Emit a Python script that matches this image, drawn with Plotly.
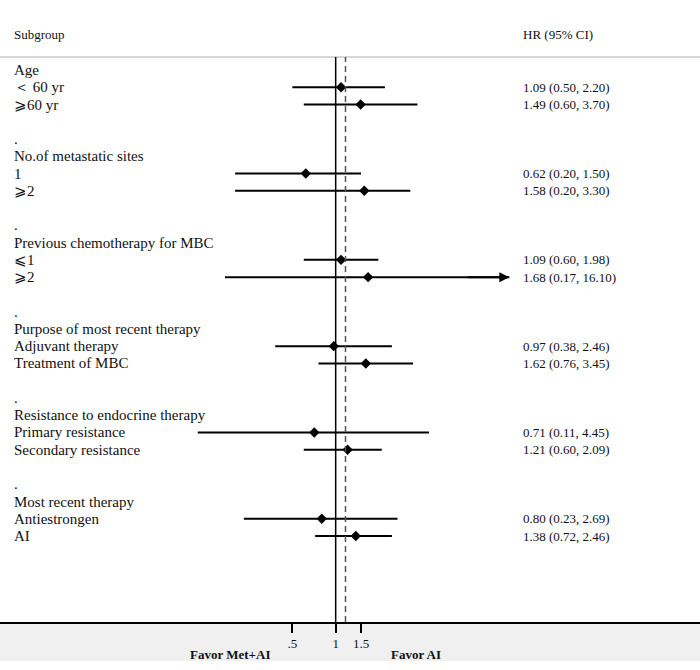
import numpy as np
import plotly.graph_objects as go

# -------------------------------------
# DATA
# -------------------------------------
row_labels = [
    "Age", "＜ 60 yr", "⩾60 yr", "", ".",
    "No.of metastatic sites", "1", "⩾2", "", ".",
    "Previous chemotherapy for MBC", "⩽1", "⩾2", "", ".",
    "Purpose of most recent therapy", "Adjuvant therapy", "Treatment of MBC", "", ".",
    "Resistance to endocrine therapy", "Primary resistance", "Secondary resistance", "", ".",
    "Most recent therapy", "Antiestrongen", "AI",
]
# row index (from top) of every estimate
est_rows = [1, 2, 6, 7, 11, 12, 16, 17, 21, 22, 26, 27]
hr = [1.09, 1.49, 0.62, 1.58, 1.09, 1.68, 0.97, 1.62, 0.71, 1.21, 0.80, 1.38]
ci_lo = [0.50, 0.60, 0.20, 0.20, 0.60, 0.17, 0.38, 0.76, 0.11, 0.60, 0.23, 0.72]
ci_hi = [2.20, 3.70, 1.50, 3.30, 1.98, 16.10, 2.46, 3.45, 4.45, 2.09, 2.69, 2.46]
overall_hr = 1.17
tick_vals = [0.5, 1, 1.5]
tick_text = [".5", "1", "1.5"]

# -------------------------------------
# STYLE
# -------------------------------------
W, H = 700, 670
serif = "Liberation Serif, Times New Roman, DejaVu Serif, serif"
txt_col = "#111"
arrow_above = 10       # CIs reaching past this get an arrow head
n_rows_view = 31.98    # bottom of plot area in row units
top_row = -0.753

fig = go.Figure()

# CI lines
xs, ys = [], []
for r, lo, hi in zip(est_rows, ci_lo, ci_hi):
    xs += [lo, hi, None]
    ys += [r, r, None]
fig.add_trace(go.Scatter(x=xs, y=ys, mode="lines",
                         line=dict(color="black", width=2),
                         hoverinfo="skip", showlegend=False))

# point estimates
fig.add_trace(go.Scatter(x=hr, y=est_rows, mode="markers",
                         marker=dict(symbol="diamond", size=8, color="black"),
                         showlegend=False))

# arrows for CIs running off
for r, lo, hi in zip(est_rows, ci_lo, ci_hi):
    if hi > arrow_above:
        fig.add_annotation(x=np.log10(hi), y=r, ax=np.log10(hi) - 0.3, ay=r,
                           xref="x", yref="y", axref="x", ayref="y",
                           showarrow=True, arrowhead=2, arrowsize=1,
                           arrowwidth=2, arrowcolor="black", text="")

# left labels
for i, lab in enumerate(row_labels):
    if lab == "":
        continue
    fig.add_annotation(x=12 / W, y=i, xref="paper", yref="y", text=lab,
                       showarrow=False, xanchor="left", yanchor="middle",
                       font=dict(family=serif, size=15, color=txt_col))

# right HR column
for r, h, lo, hi in zip(est_rows, hr, ci_lo, ci_hi):
    fig.add_annotation(x=521 / W, y=r, xref="paper", yref="y",
                       text=f"{h:.2f} ({lo:.2f}, {hi:.2f})",
                       showarrow=False, xanchor="left", yanchor="middle",
                       font=dict(family=serif, size=13, color=txt_col))

# headers
fig.add_annotation(x=12 / W, y=1.039, xref="paper", yref="paper", text="Subgroup",
                   showarrow=False, xanchor="left", yanchor="middle",
                   font=dict(family=serif, size=13, color=txt_col))
fig.add_annotation(x=521 / W, y=1.039, xref="paper", yref="paper", text="HR (95% CI)",
                   showarrow=False, xanchor="left", yanchor="middle",
                   font=dict(family=serif, size=13, color=txt_col))

# favour labels
fig.add_annotation(x=230 / W, y=-0.057, xref="paper", yref="paper", text="<b>Favor Met+AI</b>",
                   showarrow=False, xanchor="center", yanchor="middle",
                   font=dict(family=serif, size=13, color=txt_col))
fig.add_annotation(x=416 / W, y=-0.057, xref="paper", yref="paper", text="<b>Favor AI</b>",
                   showarrow=False, xanchor="center", yanchor="middle",
                   font=dict(family=serif, size=13, color=txt_col))

# header rule, reference lines, grey band under the axis
fig.add_shape(type="line", xref="paper", yref="paper", x0=0, x1=1, y0=1, y1=1,
              line=dict(color="#c8c8c8", width=1.5))
fig.add_shape(type="line", xref="x", yref="paper", x0=1, x1=1, y0=0, y1=1,
              line=dict(color="black", width=1.5))
fig.add_shape(type="line", xref="x", yref="paper", x0=overall_hr, x1=overall_hr,
              y0=0, y1=1, line=dict(color="#555", width=1.5, dash="6px,4px"))
fig.add_shape(type="rect", xref="paper", yref="paper", x0=0, x1=1, y0=-0.069, y1=0,
              fillcolor="#f0f0f0", line=dict(width=0), layer="below")

fig.update_layout(
    width=W, height=H,
    margin=dict(l=0, r=0, t=57, b=48),
    paper_bgcolor="white", plot_bgcolor="white",
    showlegend=False,
)
fig.update_xaxes(type="log", range=[-2.333, 2.532],
                 tickvals=tick_vals, ticktext=tick_text,
                 ticks="outside", ticklen=9, tickwidth=1.5, tickcolor="black",
                 showline=True, linecolor="black", linewidth=1.5,
                 showgrid=False, zeroline=False,
                 tickfont=dict(family=serif, size=13, color=txt_col))
fig.update_yaxes(range=[n_rows_view, top_row], visible=False, showgrid=False)

fig.write_html("out.html", config={"displayModeBar": False},
               post_script="document.body.style.margin='0';")
